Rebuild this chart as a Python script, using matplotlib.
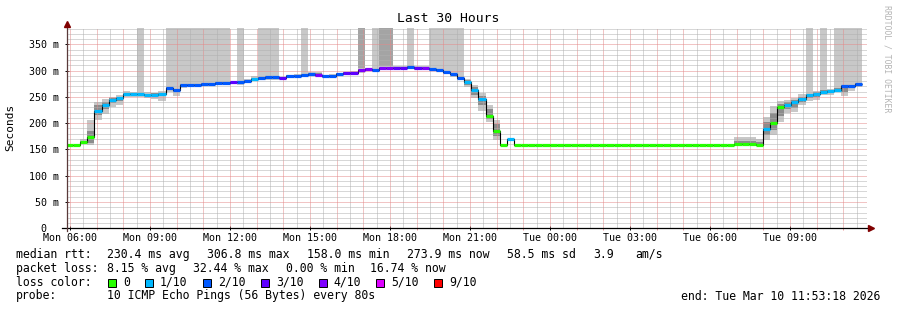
import numpy as np
import matplotlib
matplotlib.use("Agg")
import matplotlib.pyplot as plt
from matplotlib.lines import Line2D
from matplotlib.patches import Rectangle

plt.rcParams["lines.scale_dashes"] = False

# window: 30 hours ending Tue 11:53:18 (hours counted from Mon 00:00)
window_start = 5 + 53 / 60 + 18 / 3600
window_hours = 30
first_bin = 5 + 51 / 60
bin_minutes = 16

# median rtt per 16 minute bin (ms)
median = [
    158, 158, 163.5, 173, 224, 234, 244, 247, 255, 255,
    255, 253, 254, 255, 267, 263, 272, 272, 272, 275,
    275, 276, 276, 277.5, 277.5, 280, 284, 286, 287, 287,
    285.5, 289, 290, 291.5, 293.5, 291, 289.5, 290, 293, 295,
    296, 301, 302.5, 301, 305, 305, 305.5, 305.5, 306, 305,
    305, 303, 300.5, 298, 293, 286.5, 277.5, 262.5, 246, 214,
    186, 158, 170, 158, 158, 158, 158, 158, 158, 158,
    158, 158, 158, 158, 158, 158, 158, 158, 158, 158,
    158, 158, 158, 158, 158, 158, 158, 158, 158, 158,
    158, 158, 158, 158, 160.5, 160, 160, 158, 189.5, 201,
    230.5, 234.5, 239.5, 246, 253, 255.5, 259, 260.5, 263, 270,
    270, 274.5,
]

# loss class per bin (index into loss_colors)
loss = [
    0, 0, 0, 0, 1, 1, 1, 1, 1, 1,
    1, 1, 1, 1, 2, 2, 2, 2, 2, 2,
    2, 2, 2, 3, 2, 2, 1, 2, 2, 2,
    3, 2, 2, 2, 2, 4, 2, 2, 2, 3,
    3, 4, 4, 2, 4, 4, 3, 3, 2, 3,
    4, 2, 2, 2, 2, 2, 1, 1, 1, 0,
    0, 0, 1, 0, 0, 0, 0, 0, 0, 0,
    0, 0, 0, 0, 0, 0, 0, 0, 0, 0,
    0, 0, 0, 0, 0, 0, 0, 0, 0, 0,
    0, 0, 0, 0, 0, 0, 0, 0, 1, 0,
    0, 1, 1, 1, 1, 1, 1, 1, 1, 2,
    2, 2,
]

# smoke: spread of the pings below / above the median (ms)
smoke_dn = [
    0, 0, 3, 15, 18, 17, 14, 13, 5, 5,
    5, 6, 9, 12, 7, 11, 5, 4, 4, 4,
    5, 4, 4, 3, 4, 4, 4, 4, 4, 4,
    3, 4, 3, 4, 3, 3, 3, 4, 3, 3,
    4, 5, 3, 4, 3, 3, 3, 3, 3, 3,
    3, 4, 4, 4, 5, 5, 8, 15, 22, 11,
    18, 0, 0, 0, 0, 0, 0, 0, 0, 0,
    0, 0, 0, 0, 0, 0, 0, 0, 0, 0,
    0, 0, 0, 0, 0, 0, 0, 0, 0, 0,
    0, 0, 0, 0, 1, 1, 1, 0, 21, 24,
    28, 15, 18, 11, 11, 11, 6, 6, 3, 18,
    8, 5,
]
smoke_up = [
    0, 0, 6, 33, 17, 12, 6, 6, 7, 5,
    5, 6, 4, 6, 5, 5, 4, 4, 4, 3,
    3, 3, 3, 3, 4, 4, 5, 5, 4, 4,
    3, 3, 3, 3, 4, 7, 3, 3, 3, 3,
    3, 3, 3, 3, 3, 3, 3, 3, 3, 3,
    3, 3, 3, 3, 3, 4, 7, 10, 11, 20,
    20, 0, 0, 0, 0, 0, 0, 0, 0, 0,
    0, 0, 0, 0, 0, 0, 0, 0, 0, 0,
    0, 0, 0, 0, 0, 0, 0, 0, 0, 0,
    0, 0, 0, 0, 13, 13, 13, 12, 22, 31,
    11, 10, 8, 9, 5, 5, 7, 4, 5, 4,
    4, 3,
]
core_dn = [
    0, 0, 1, 10, 9, 8, 5, 5, 2, 2,
    2, 2, 2, 2, 3, 4, 2, 2, 2, 2,
    2, 2, 2, 2, 2, 2, 2, 2, 2, 2,
    2, 2, 2, 2, 2, 2, 2, 2, 2, 2,
    2, 2, 2, 2, 2, 2, 2, 2, 2, 2,
    2, 2, 2, 2, 2, 2, 4, 8, 12, 6,
    10, 0, 0, 0, 0, 0, 0, 0, 0, 0,
    0, 0, 0, 0, 0, 0, 0, 0, 0, 0,
    0, 0, 0, 0, 0, 0, 0, 0, 0, 0,
    0, 0, 0, 0, 0, 0, 0, 0, 12, 14,
    16, 8, 10, 6, 5, 5, 3, 3, 2, 10,
    4, 3,
]
core_up = [
    0, 0, 3, 12, 10, 6, 3, 3, 3, 3,
    3, 3, 3, 3, 2, 2, 2, 2, 2, 2,
    2, 2, 2, 2, 2, 2, 2, 2, 2, 2,
    2, 2, 2, 2, 2, 4, 2, 2, 2, 2,
    2, 2, 2, 2, 2, 2, 2, 2, 2, 2,
    2, 2, 2, 2, 2, 2, 4, 6, 6, 12,
    12, 0, 0, 0, 0, 0, 0, 0, 0, 0,
    0, 0, 0, 0, 0, 0, 0, 0, 0, 0,
    0, 0, 0, 0, 0, 0, 0, 0, 0, 0,
    0, 0, 0, 0, 6, 6, 6, 6, 12, 18,
    6, 5, 4, 4, 3, 3, 4, 2, 3, 2,
    2, 2,
]

# bins where some pings went off the top of the graph
over_top = [10, 14, 15, 16, 17, 18, 19, 20, 21, 22, 24, 27, 28, 29, 33,
            41, 43, 44, 45, 48, 51, 52, 53, 54, 55, 104, 106, 108, 109, 110, 111]
over_top_many = [41, 44, 45]

loss_labels = ["0", "1/10", "2/10", "3/10", "4/10", "5/10", "9/10"]
loss_colors = ["#26ff00", "#00b8ff", "#0059ff", "#5e00ff", "#7e00ff", "#dd00ff", "#ff0000"]

xtick_hours = [6, 9, 12, 15, 18, 21, 24, 27, 30, 33]
xtick_labels = ["Mon 06:00", "Mon 09:00", "Mon 12:00", "Mon 15:00", "Mon 18:00",
                "Mon 21:00", "Tue 00:00", "Tue 03:00", "Tue 06:00", "Tue 09:00"]
ytick_values = [0, 50, 100, 150, 200, 250, 300, 350]
ytick_labels = ["0  ", "50 m", "100 m", "150 m", "200 m", "250 m", "300 m", "350 m"]
y_top = 381

rtt_fields = ["median rtt:", "230.4 ms avg", "306.8 ms max", "158.0 ms min",
              "273.9 ms now", "58.5 ms sd", "3.9", "am/s"]
loss_fields = ["packet loss:", "8.15 % avg", "32.44 % max", "0.00 % min", "16.74 % now"]
probe_fields = ["probe:", "10 ICMP Echo Pings (56 Bytes) every 80s"]
end_line = "end: Tue Mar 10 11:53:18 2026"

W, H = 897, 310
MONO = "DejaVu Sans Mono"


def px(x, y):
    return x / W, 1 - y / H


fig = plt.figure(figsize=(W / 100, H / 100), dpi=100)
fig.patch.set_facecolor("white")
ax = fig.add_axes([67 / W, 1 - 228.3 / H, 800 / W, 200.3 / H])
ax.set_xlim(window_start, window_start + window_hours)
ax.set_ylim(0, y_top)
for s in ax.spines.values():
    s.set_visible(False)

med = np.array(median, dtype=float)
bw = bin_minutes / 60
left = first_bin + bw * np.arange(len(med))
edges = np.append(left, left[-1] + bw)

# smoke
dn, up = np.array(smoke_dn), np.array(smoke_up)
ax.bar(left, dn + up, bottom=med - dn, width=bw, align="edge",
       color="#c8c8c8", linewidth=0, zorder=1)
cdn, cup = np.array(core_dn), np.array(core_up)
ax.bar(left, cdn + cup, bottom=med - cdn, width=bw, align="edge",
       color="#8c8c8c", linewidth=0, zorder=1.1)
ot = np.array(over_top)
ax.bar(left[ot], y_top - (med[ot] + up[ot]), bottom=med[ot] + up[ot], width=bw,
       align="edge", color="#c8c8c8", linewidth=0, zorder=1)
om = np.array(over_top_many)
ax.bar(left[om], y_top - (med[om] + up[om]), bottom=med[om] + up[om], width=bw,
       align="edge", color="#a4a4a4", linewidth=0, zorder=1.05)

# grid, 1px dots
dots = (0, (0.72, 0.72))
h = np.ceil(window_start * 2) / 2
while h < window_start + window_hours:
    major = abs(h - round(h)) < 1e-6
    ax.axvline(h, color="#e48a8a" if major else "#b0b0b0", lw=0.72,
               ls=dots, zorder=2)
    h += 0.5
for v in range(10, y_top, 10):
    ax.axhline(v, color="#e48a8a" if v % 50 == 0 else "#b0b0b0", lw=0.72,
               ls=dots, zorder=2)

# median line, coloured by loss
ax.stairs(med, edges, baseline=None, color="black", lw=0.8, zorder=3)
ax.hlines(med, edges[:-1], edges[1:], colors=[loss_colors[i] for i in loss],
          lw=2.3, zorder=4, capstyle="butt")

# ticks
ax.set_xticks(xtick_hours)
ax.set_xticklabels(xtick_labels, fontfamily=MONO, fontsize=7.2)
ax.set_xticks(np.arange(6, 36), minor=True)
ax.set_yticks(ytick_values)
ax.set_yticklabels(ytick_labels, fontfamily=MONO, fontsize=7.2)
ax.tick_params(axis="x", which="major", direction="inout", length=3, width=0.7, pad=2.2)
ax.tick_params(axis="x", which="minor", direction="out", length=1.5, width=0.7,
               color="#eb9595")
ax.tick_params(axis="y", which="major", direction="inout", length=3, width=0.7, pad=4.5)

# axes with arrows
fig.add_artist(Line2D([62 / W, 870 / W], [1 - 228.3 / H] * 2, color="black", lw=0.9))
fig.add_artist(Line2D([67 / W] * 2, [1 - 231 / H, 1 - 24 / H], color="#5a3a3a", lw=0.9))
fig.add_artist(Line2D([67 / W], [1 - 23.5 / H], marker="^", ms=4, color="#800000", lw=0))
fig.add_artist(Line2D([871 / W], [1 - 228.3 / H], marker=">", ms=4, color="#800000", lw=0))

# texts
fig.text(*px(448, 19), "Last 30 Hours", ha="center", va="center",
         fontfamily=MONO, fontsize=9.4)
fig.text(*px(10, 127), "Seconds", ha="center", va="center", rotation=90,
         fontfamily=MONO, fontsize=8)
fig.text(*px(887, 59), "RRDTOOL / TOBI OETIKER", ha="center", va="center",
         rotation=270, fontfamily=MONO, fontsize=5.9, color="#b4b4b4")

fs = 8.3
cw = 6.97


def row(fields, xs, y):
    for f, xx in zip(fields, xs):
        fig.text(*px(xx, y), f, ha="left", va="center", fontfamily=MONO, fontsize=fs)


row(rtt_fields, [16, 107, 207, 307, 407, 507, 593, 635], 254.3)
row(loss_fields, [16, 107, 193, 286, 370], 268.3)
row(["loss color:"], [16], 282.3)
row(probe_fields, [16, 107], 296)
fig.text(*px(880, 296), end_line, ha="right", va="center", fontfamily=MONO, fontsize=fs)

x = 108
for lab, col in zip(loss_labels, loss_colors):
    fig.add_artist(Rectangle(px(x, 286.5), 8 / W, 8 / H, facecolor=col,
                             edgecolor="black", lw=0.7))
    fig.text(*px(x + 15, 282.3), lab, ha="left", va="center", fontfamily=MONO, fontsize=fs)
    x += 15 + len(lab) * cw + 15

fig.savefig("out.png", dpi=100)
